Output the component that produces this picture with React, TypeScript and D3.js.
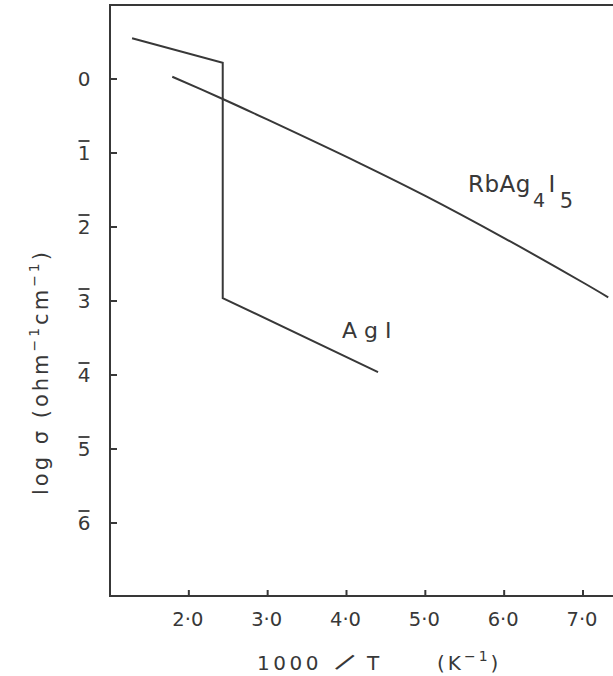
import React from 'react';
import * as d3 from 'd3';

// axis ticks
const xTicks = [2, 3, 4, 5, 6, 7];
const xTickLabels = ['2·0', '3·0', '4·0', '5·0', '6·0', '7·0'];
const yTicks = [0, -1, -2, -3, -4, -5, -6];
const yTickLabels = ['0', '1', '2', '3', '4', '5', '6'];
const yTickBarred = [false, true, true, true, true, true, true];

// RbAg4I5 curve (1000/T, log sigma)
const rbX = [1.79, 2.43, 3.0, 4.17, 5.0, 6.0, 7.0, 7.32];
const rbY = [0.03, -0.27, -0.55, -1.14, -1.58, -2.15, -2.75, -2.95];

// AgI curve with the transition jump
const agX = [1.28, 2.43, 2.43, 4.4];
const agY = [0.55, 0.22, -2.96, -3.96];

const W = 613;
const H = 676;
const ink = '#383838';
const font = '"DejaVu Sans", "Open Sans", sans-serif';

export default function App() {
  const left = 110, top = 5, bottom = 596;
  const x = d3.scaleLinear().domain([1, 7]).range([left, 583]);
  const y = d3.scaleLinear().domain([1, -7]).range([top, bottom + 1]);

  const rbPath = d3.line<[number, number]>().x(d => x(d[0])).y(d => y(d[1])).curve(d3.curveCatmullRom)(
    rbX.map((v, i) => [v, rbY[i]] as [number, number])) || '';
  const agPath = d3.line<[number, number]>().x(d => x(d[0])).y(d => y(d[1]))(
    agX.map((v, i) => [v, agY[i]] as [number, number])) || '';

  return (
    <div style={{position: 'absolute', left: 0, top: 0}}>
      <svg width={W} height={H} style={{display: 'block', background: '#fff'}}>
        {/* frame: top, left, bottom (no right edge) */}
        <path d={`M${W},${top} L${left},${top} L${left},${bottom} L${W},${bottom}`} fill="none" stroke={ink} strokeWidth={2} />

        {/* y ticks, negative values written with an overbar */}
        {yTicks.map((t, i) => (
          <g key={'y' + t}>
            <line x1={left} x2={left + 7} y1={y(t)} y2={y(t)} stroke={ink} strokeWidth={2} />
            <text x={84} y={y(t) + 7} textAnchor="middle" fontSize={20} fontFamily={font} fill={ink}>{yTickLabels[i]}</text>
            {yTickBarred[i] && <line x1={78.5} x2={89.5} y1={y(t) - 12} y2={y(t) - 12} stroke={ink} strokeWidth={1.8} />}
          </g>
        ))}

        {/* x ticks */}
        {xTicks.map((t, i) => (
          <g key={'x' + t}>
            <line x1={x(t)} x2={x(t)} y1={bottom} y2={bottom - 6} stroke={ink} strokeWidth={2} />
            <text x={x(t) - 1} y={626} textAnchor="middle" fontSize={19.5} fontFamily={font} fill={ink}>{xTickLabels[i]}</text>
          </g>
        ))}

        {/* curves */}
        <path d={agPath} fill="none" stroke={ink} strokeWidth={2} />
        <path d={rbPath} fill="none" stroke={ink} strokeWidth={2} />

        {/* curve labels */}
        <text x={468} y={192} fontSize={23} fontFamily={font} fill={ink} letterSpacing={0.5}>
          RbAg<tspan dy={15} dx={2} fontSize={19}>4</tspan><tspan dy={-15} dx={3}>I</tspan><tspan dy={16} dx={4} fontSize={21}>5</tspan>
        </text>
        <text x={342} y={338} fontSize={22} fontFamily={font} fill={ink} letterSpacing={7}>AgI</text>

        {/* y axis title */}
        <text transform="translate(48,372) rotate(-90)" textAnchor="middle" fontSize={21} fontFamily={font} fill={ink} letterSpacing={3}>
          log σ (ohm<tspan dy={-9} fontSize={14}>−1</tspan><tspan dy={9}>cm</tspan><tspan dy={-9} fontSize={14}>−1</tspan><tspan dy={9}>)</tspan>
        </text>

        {/* x axis title */}
        <text x={257} y={670} fontSize={20} fontFamily={font} fill={ink} letterSpacing={3.5}>1000</text>
        <text transform="translate(340,669) rotate(35)" textAnchor="middle" fontSize={26} fontFamily={font} fill={ink}>/</text>
        <text x={367} y={670} fontSize={20} fontFamily={font} fill={ink}>T</text>
        <text x={437} y={670} fontSize={20} fontFamily={font} fill={ink} letterSpacing={3}>
          (K<tspan dy={-9} fontSize={14}>−1</tspan><tspan dy={9}>)</tspan>
        </text>
      </svg>
    </div>
  );
}
